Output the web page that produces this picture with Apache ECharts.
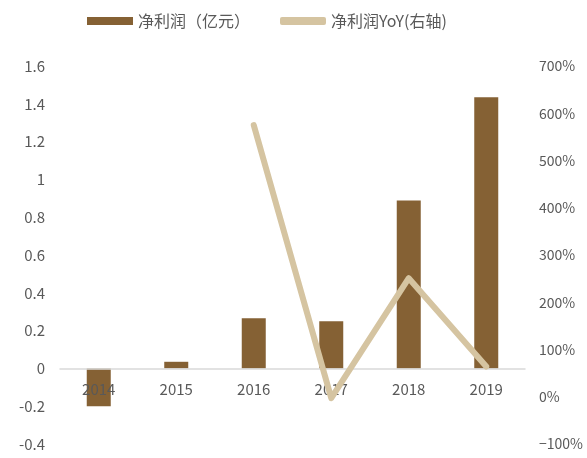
<!DOCTYPE html>
<html>
<head>
<meta charset="utf-8">
<script src="https://cdn.jsdelivr.net/npm/echarts@6/dist/echarts.min.js"></script>
<style>
  html, body { margin: 0; padding: 0; background: #fff; }
  #chart { width: 587px; height: 458px; }
</style>
</head>
<body>
<div id="chart"></div>
<script>
// Annual net profit (100M CNY) and its year-over-year growth (%)
var years = ['2014', '2015', '2016', '2017', '2018', '2019'];
var netProfit = [-0.2, 0.035, 0.266, 0.249, 0.889, 1.434];
var netProfitYoY = [null, null, 575, -3, 251, 64];

var barColor = '#856134';
var lineColor = '#D5C4A1';
var textColor = '#595959';
var fontFamily = '"Noto Sans CJK SC", "Noto Sans", sans-serif';

var leftMin = -0.4, leftMax = 1.6;
var gridTop = 66, gridBottom = 14, chartHeight = 458;
var plotHeight = chartHeight - gridTop - gridBottom;
// the category axis sits on the zero line of the left value axis
var zeroOffset = -plotHeight * (0 - leftMin) / (leftMax - leftMin);

var chart = echarts.init(document.getElementById('chart'));
chart.setOption({
  animation: false,
  textStyle: { fontFamily: fontFamily },
  legend: {
    top: 8,
    left: 82,
    itemGap: 30,
    textStyle: { color: textColor, fontSize: 16, fontFamily: fontFamily },
    data: [
      { name: '净利润（亿元）', icon: 'rect', itemStyle: { color: barColor } },
      { name: '净利润YoY(右轴)', icon: 'roundRect', itemStyle: { color: lineColor } }
    ],
    itemWidth: 46,
    itemHeight: 8
  },
  grid: {
    left: 60, right: 62, top: gridTop, bottom: gridBottom,
    containLabel: false,
    outerBoundsMode: 'none'
  },
  xAxis: {
    type: 'category',
    data: years,
    offset: zeroOffset,
    z: 2,
    axisLine: { onZero: false, lineStyle: { color: '#D9D9D9', width: 1.5 } },
    axisTick: { show: false },
    axisLabel: { color: textColor, fontSize: 15, margin: 13, fontFamily: fontFamily }
  },
  yAxis: [
    {
      type: 'value',
      min: leftMin,
      max: leftMax,
      interval: 0.2,
      splitLine: { show: false },
      axisLine: { show: false },
      axisTick: { show: false },
      axisLabel: {
        color: textColor,
        fontSize: 15,
        margin: 15,
        fontFamily: fontFamily,
        formatter: function (v) { return String(Math.round(v * 10) / 10); }
      }
    },
    {
      type: 'value',
      min: -100,
      max: 700,
      interval: 100,
      splitLine: { show: false },
      axisLine: { show: false },
      axisTick: { show: false },
      axisLabel: {
        color: textColor,
        fontSize: 14,
        margin: 14,
        fontFamily: fontFamily,
        formatter: function (v) { return (v < 0 ? '\u2212' + (-v) : v) + '%'; }
      }
    }
  ],
  series: [
    {
      name: '净利润（亿元）',
      type: 'bar',
      data: netProfit,
      barWidth: 24,
      itemStyle: { color: barColor },
      yAxisIndex: 0,
      z: 1
    },
    {
      name: '净利润YoY(右轴)',
      type: 'line',
      data: netProfitYoY,
      yAxisIndex: 1,
      symbol: 'none',
      lineStyle: { color: lineColor, width: 6, cap: 'round', join: 'round' },
      itemStyle: { color: lineColor },
      z: 3
    }
  ]
});
</script>
</body>
</html>
